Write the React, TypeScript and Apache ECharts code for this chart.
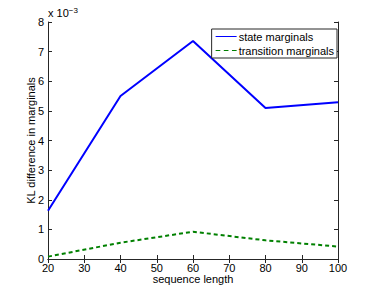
import React, { useEffect, useRef } from "react";
import * as echarts from "echarts";

const sequenceLengths = [20, 40, 60, 80, 100];
const stateMarginals = [1.63, 5.5, 7.36, 5.1, 5.29];
const transitionMarginals = [0.08, 0.55, 0.92, 0.63, 0.42];
const xTicks = [20, 30, 40, 50, 60, 70, 80, 90, 100];
const yTicks = [0, 1, 2, 3, 4, 5, 6, 7, 8];

export default function App() {
  const ref = useRef<HTMLDivElement>(null);
  useEffect(() => {
    const chart = echarts.init(ref.current!, null, { renderer: "svg" });
    const font = "Liberation Sans";
    const axisCommon = {
      axisLine: { show: true, lineStyle: { color: "#262626", width: 1 } },
      axisTick: { show: true, inside: true, length: 4, lineStyle: { color: "#262626" } },
      splitLine: { show: false },
    };
    chart.setOption({
      animation: false,
      backgroundColor: "#fff",
      textStyle: { fontFamily: font },
      grid: { left: 48, right: 36, top: 22, bottom: 33, containLabel: false },
      xAxis: [
        {
          type: "value",
          min: xTicks[0],
          max: xTicks[xTicks.length - 1],
          interval: 10,
          position: "bottom",
          name: "sequence length",
          nameLocation: "middle",
          nameGap: 14,
          nameMoveOverlap: false,
          nameTextStyle: { fontFamily: font, fontSize: 11, color: "#000", verticalAlign: "top" },
          axisLabel: { fontFamily: font, fontSize: 11, color: "#000", margin: 4, lineHeight: 9 },
          ...axisCommon,
        },
        {
          type: "value",
          min: xTicks[0],
          max: xTicks[xTicks.length - 1],
          interval: 10,
          position: "top",
          axisLabel: { show: false },
          ...axisCommon,
        },
      ],
      yAxis: [
        {
          type: "value",
          min: yTicks[0],
          max: yTicks[yTicks.length - 1],
          interval: 1,
          position: "left",
          name: "KL difference in marginals",
          nameLocation: "middle",
          nameGap: 12,
          nameMoveOverlap: false,
          nameTextStyle: { fontFamily: font, fontSize: 11, color: "#000" },
          axisLabel: { fontFamily: font, fontSize: 11, color: "#000", margin: 4, lineHeight: 9 },
          ...axisCommon,
        },
        {
          type: "value",
          min: yTicks[0],
          max: yTicks[yTicks.length - 1],
          interval: 1,
          position: "right",
          axisLabel: { show: false },
          ...axisCommon,
        },
      ],
      legend: {
        orient: "vertical",
        right: 37,
        top: 29,
        backgroundColor: "#fff",
        borderColor: "#262626",
        borderWidth: 1,
        borderRadius: 0,
        padding: [2, 3, 2, 4],
        itemGap: 3,
        itemWidth: 21,
        itemHeight: 11,
        textStyle: { fontFamily: font, fontSize: 11, color: "#000", padding: [0, 0, 0, -3] },
        data: [
          { name: "state marginals", icon: "path://M0,4.5L21,4.5L21,5.5L0,5.5Z" },
          { name: "transition marginals", icon: "path://M0,4.5L4,4.5L4,5.5L0,5.5ZM7,4.5L11,4.5L11,5.5L7,5.5ZM14,4.5L18,4.5L18,5.5L14,5.5Z" },
        ],
      },
      graphic: [
        {
          type: "text",
          left: 48,
          top: 6,
          style: {
            text: "x 10{sup|−3}",
            fontFamily: font,
            fontSize: 11,
            fill: "#000",
            rich: { sup: { fontSize: 8, verticalAlign: "top", padding: [0, 0, 6, 0], fontFamily: font } },
          },
        },
      ],
      series: [
        {
          name: "state marginals",
          type: "line",
          data: sequenceLengths.map((x, i) => [x, stateMarginals[i]]),
          showSymbol: false,
          lineStyle: { color: "#0000ff", width: 2 },
          itemStyle: { color: "#0000ff" },
        },
        {
          name: "transition marginals",
          type: "line",
          data: sequenceLengths.map((x, i) => [x, transitionMarginals[i]]),
          showSymbol: false,
          lineStyle: { color: "#008000", width: 2, type: [4, 3] },
          itemStyle: { color: "#008000" },
        },
      ],
    });
    return () => chart.dispose();
  }, []);
  return <div ref={ref} style={{ width: 374, height: 292, position: "absolute", left: 0, top: 0 }} />;
}
